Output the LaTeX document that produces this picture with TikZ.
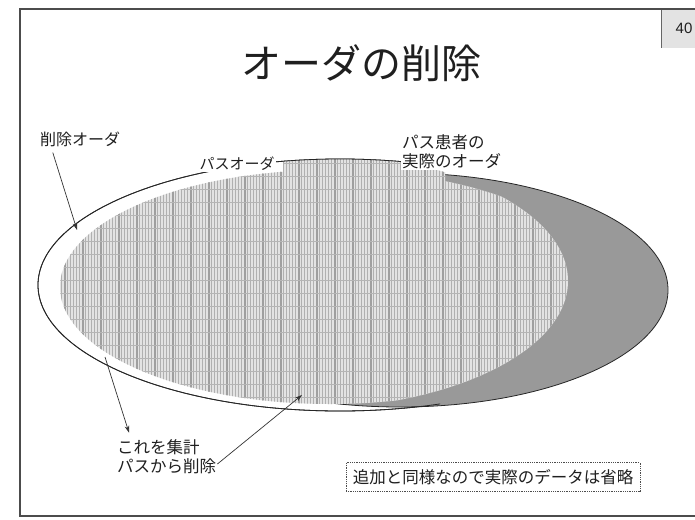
\documentclass[tikz,border=0pt]{standalone}
\usepackage{fontspec}
\setmainfont{Noto Sans CJK JP}
\newfontfamily\numfont{Liberation Sans}
\usetikzlibrary{arrows.meta}
\definecolor{crescent}{gray}{0.6}
\definecolor{inkc}{gray}{0.12}
\newcommand\hatchpattern{%
  \fill[hatchbg] (40,140) rectangle (620,420);
  \foreach \hx in {40,43,...,620}{\draw[hatchv] (\hx,140) -- (\hx,420);}
  \foreach \hx in {47,65,...,620}{\draw[hatchvb] (\hx,140) -- (\hx,420);}
  \foreach \hy in {150,163,...,420}{\draw[hatchh] (40,\hy) -- (620,\hy);}
}
\begin{document}
\begin{tikzpicture}[x=1pt,y=-1pt,
  slideframe/.style={draw=black!70, line width=1.3pt},
  outl/.style={draw=black!85, line width=0.8pt},
  lbl/.style={inner sep=1pt, text=inkc},
  arr/.style={draw=black!80, line width=0.7pt, -{Stealth[length=7pt,width=4.5pt]}},
  notebox/.style={draw=black!70, densely dotted, line width=0.8pt, inner sep=0pt,
    minimum width=294pt, minimum height=29pt, text=inkc, font=\fontsize{16.5}{16.5}\selectfont},
  hatchbg/.style={fill=gray!22},
  hatchv/.style={draw=gray!62, line width=0.9pt},
  hatchvb/.style={draw=gray!75, line width=1.3pt},
  hatchh/.style={draw=gray!58, line width=0.9pt}]
\useasboundingbox (0,0) rectangle (695,519);
\fill[white] (0,0) rectangle (695,519);
% page number box
\fill[gray!22] (661,10) rectangle (700,48);
\draw[black!60, line width=0.6pt] (661,48) -- (661,10);
\node[lbl, font=\numfont\fontsize{15}{15}\selectfont] (pn) at (684,28) {40};
% slide frame
\draw[slideframe] (700,9) -- (20,9) -- (20,516) -- (700,516);
% title
\node[lbl, font=\fontsize{40}{40}\selectfont] (title) at (361,63) {オーダの削除};
% outer ellipse
\begin{scope}
\clip (0,0) rectangle (440,519);
\draw[outl, fill=white] (340,285) ellipse [x radius=302pt, y radius=126pt];
\end{scope}
% grey ellipse
\draw[outl, fill=crescent] (400,290) ellipse [x radius=268pt, y radius=117pt];
% hatched region
\begin{scope}
\clip (340,285) ellipse [x radius=302pt, y radius=126pt];
\clip (330,287) ellipse [x radius=270pt, y radius=117pt];
\clip (300,281) ellipse [x radius=268pt, y radius=128pt];
\hatchpattern
\end{scope}
\begin{scope}
\clip (340,285) ellipse [x radius=302pt, y radius=126pt];
\clip (283,150) rectangle (445,200);
\clip (300,280) ellipse [x radius=268pt, y radius=128pt];
\hatchpattern
\end{scope}
\begin{scope}
\clip (0,0) rectangle (440,519);
\draw[outl] (340,285) ellipse [x radius=302pt, y radius=126pt];
\end{scope}
% labels
\node[lbl, fill=white, font=\fontsize{15}{15}\selectfont] (pasu) at (237,164) {パスオーダ};
\node[lbl, fill=white, anchor=west, align=left, font=\fontsize{16.5}{19}\selectfont] (jissai) at (401,152) {パス患者の\\実際のオーダ};
\node[lbl, font=\fontsize{16}{16}\selectfont] (sakujo) at (80,139) {削除オーダ};
\node[lbl, anchor=west, align=left, font=\fontsize{16.5}{19}\selectfont] (kore) at (116,457) {これを集計\\パスから削除};
\node[notebox] (note) at (493,477) {追加と同様なので実際のデータは省略};
% arrows
\coordinate (tipA) at (77,230);
\coordinate (tailB) at (105,357);
\coordinate (tipC) at (302,395);
\draw[arr] ([xshift=14pt,yshift=-5pt]sakujo.south west) -- (tipA);
\draw[arr] (tailB) -- ([xshift=13pt,yshift=6pt]kore.north west);
\draw[arr] ([yshift=-7pt]kore.east) -- (tipC);
\end{tikzpicture}
\end{document}
